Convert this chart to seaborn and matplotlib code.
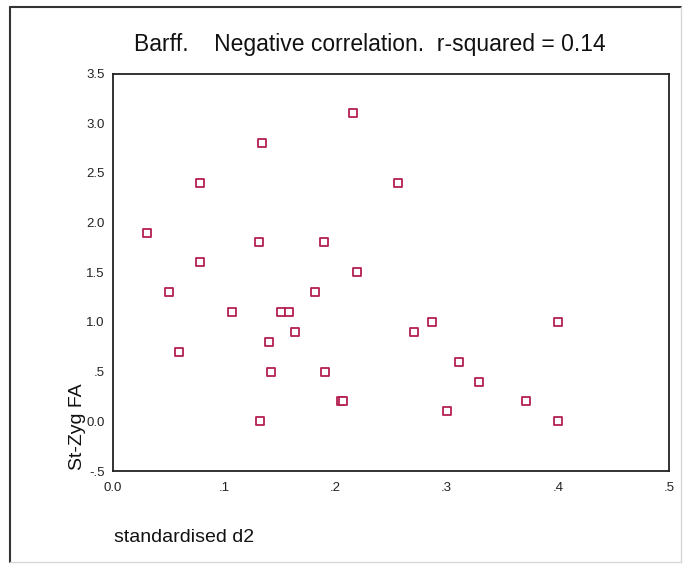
import matplotlib
matplotlib.use("Agg")
import matplotlib.pyplot as plt
from matplotlib.lines import Line2D
import seaborn as sns
import pandas as pd

# Data
d2 = [0.031, 0.050, 0.059, 0.078, 0.078, 0.107, 0.134, 0.131, 0.132, 0.140,
      0.142, 0.151, 0.158, 0.164, 0.182, 0.190, 0.191, 0.205, 0.207, 0.216,
      0.219, 0.256, 0.271, 0.287, 0.300, 0.311, 0.329, 0.371, 0.400, 0.400]
fa = [1.9, 1.3, 0.7, 2.4, 1.6, 1.1, 2.8, 1.8, 0.0, 0.8,
      0.5, 1.1, 1.1, 0.9, 1.3, 1.8, 0.5, 0.2, 0.2, 3.1,
      1.5, 2.4, 0.9, 1.0, 0.1, 0.6, 0.4, 0.2, 1.0, 0.0]
x_ticks = [0.0, 0.1, 0.2, 0.3, 0.4, 0.5]
x_tick_labels = ["0.0", ".1", ".2", ".3", ".4", ".5"]
y_ticks = [-0.5, 0.0, 0.5, 1.0, 1.5, 2.0, 2.5, 3.0, 3.5]
y_tick_labels = ["-.5", "0.0", ".5", "1.0", "1.5", "2.0", "2.5", "3.0", "3.5"]
title = "Barff.    Negative correlation.  r-squared = 0.14"

df = pd.DataFrame({"standardised d2": d2, "St-Zyg FA": fa})

sns.set_style("white")
plt.rcParams["font.family"] = ["Liberation Sans", "DejaVu Sans"]

W, H = 689, 565
fig = plt.figure(figsize=(W / 100, H / 100), dpi=100)
ax = fig.add_axes([113 / W, 1 - 471 / H, (669 - 113) / W, (471 - 73.5) / H])

sns.scatterplot(data=df, x="standardised d2", y="St-Zyg FA", ax=ax,
                marker="s", s=26, facecolor="white", edgecolor="#B5204F",
                linewidth=1.3, legend=False)

ax.set_xlim(0, 0.5)
ax.set_ylim(-0.5, 3.5)
ax.set_xticks(x_ticks)
ax.set_xticklabels(x_tick_labels)
ax.set_yticks(y_ticks)
ax.set_yticklabels(y_tick_labels)
ax.tick_params(axis="both", which="major", length=3, width=2.2, color="#222222",
               labelsize=9.5, labelcolor="#222222", pad=3, direction="out")
ax.tick_params(axis="x", pad=5)
for sp in ax.spines.values():
    sp.set_visible(True)
    sp.set_color("#222222")
    sp.set_linewidth(1.3)
ax.set_xlabel("")
ax.set_ylabel("")

fig.text(370 / W, 1 - 45 / H, title, ha="center", va="center",
         fontsize=16.5, color="#111111")
fig.text(114 / W, 1 - 538 / H, "standardised d2", ha="left", va="center",
         fontsize=14, color="#111111")
fig.text(77 / W, 1 - 470 / H, "St-Zyg FA", ha="center", va="bottom",
         rotation=90, fontsize=14, color="#111111")

# outer frame (SPSS chart border)
fig.add_artist(Line2D([10 / W, 10 / W], [1 - 7 / H, 1 - 562 / H],
                      transform=fig.transFigure, color="#333333", lw=1.5))
fig.add_artist(Line2D([10 / W, 681 / W], [1 - 7 / H, 1 - 7 / H],
                      transform=fig.transFigure, color="#333333", lw=1.5))
fig.add_artist(Line2D([681 / W, 681 / W], [1 - 7 / H, 1 - 562 / H],
                      transform=fig.transFigure, color="#d8d8d8", lw=1.0))
fig.add_artist(Line2D([10 / W, 681 / W], [1 - 562 / H, 1 - 562 / H],
                      transform=fig.transFigure, color="#d8d8d8", lw=1.0))

fig.savefig("out.png", dpi=100)
